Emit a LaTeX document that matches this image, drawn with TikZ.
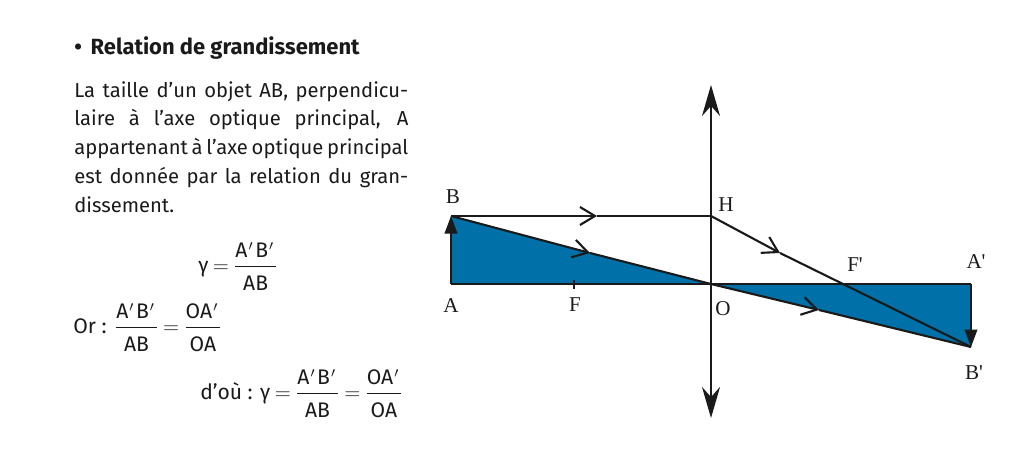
\documentclass[tikz,border=0pt]{standalone}
\usepackage{fontspec}
\setmainfont{Fira Sans}
\newfontfamily\serifaxe{Liberation Serif}
\usetikzlibrary{arrows.meta}
\definecolor{bleu}{HTML}{0070A9}
\definecolor{encre}{HTML}{1A1A1A}
\newcommand{\ratio}[2]{\ensuremath{\displaystyle\frac{\mbox{#1}\rule[-1pt]{0pt}{1pt}}{\mbox{\rule{0pt}{12pt}#2}}}}
\newcommand{\pr}{\kern0.6pt$'$\kern1pt}
\newcommand{\egal}{\kern2.5pt$=$\kern2.5pt}
\tikzset{
  texte/.style={text=encre,inner sep=0pt,font=\fontsize{11.5}{16.4}\selectfont},
  titrefont/.style={text=encre,inner sep=0pt,font=\bfseries\fontsize{12.5}{16.4}\selectfont},
  equation/.style={text=encre,inner sep=0pt,anchor=base west,font=\fontsize{12}{16.4}\selectfont},
  repere/.style={text=encre,inner sep=0pt,font=\serifaxe\fontsize{12}{14}\selectfont},
  rayon/.style={draw=encre,line width=1.2pt},
  fleche/.style={rayon,-{Straight Barb[length=0.3cm,width=0.36cm,line width=1.2pt]}},
  taille/.style={rayon,-{Triangle[length=0.35cm,width=0.25cm]}},
  lentille/.style={rayon,{Stealth[length=0.62cm,width=0.36cm]}-{Stealth[length=0.62cm,width=0.36cm]}},
}
\begin{document}
\begin{tikzpicture}
  \useasboundingbox (0,0) rectangle (20.42,9.06);

  \coordinate (A) at (9.02,3.38);
  \coordinate (B) at (9.02,4.74);
  \coordinate (O) at (14.22,3.38);
  \coordinate (H) at (14.22,4.74);
  \coordinate (Ap) at (19.42,3.38);
  \coordinate (Bp) at (19.42,2.12);
  \coordinate (lensHaut) at (14.22,7.36);
  \coordinate (lensBas) at (14.22,0.70);
  \coordinate (tickHaut) at (11.48,3.46);
  \coordinate (tickBas) at (11.48,3.28);
  \coordinate (midBH) at (11.94,4.74);
  \coordinate (midBO) at (11.80,4.00);
  \coordinate (midHBp) at (15.60,4.00);
  \coordinate (midOBp) at (16.38,2.86);

  \fill[bleu] (A) -- (B) -- (O) -- cycle;
  \fill[bleu] (O) -- (Ap) -- (Bp) -- cycle;

  \draw[rayon] (A) -- (Ap);
  \draw[rayon] (tickHaut) -- (tickBas);
  \draw[lentille] (lensBas) -- (lensHaut);
  \draw[taille] (A) -- (B);
  \draw[taille] (Ap) -- (Bp);

  \draw[fleche] (B) -- (midBH);
  \draw[rayon] (midBH) -- (H);
  \draw[fleche] (B) -- (midBO);
  \draw[rayon] (midBO) -- (O);
  \draw[fleche] (H) -- (midHBp);
  \draw[rayon] (midHBp) -- (Bp);
  \draw[fleche] (O) -- (midOBp);
  \draw[rayon] (midOBp) -- (Bp);

  \node[repere] (lblB) at (9.06,5.12) {B};
  \node[repere] (lblA) at (9.02,2.94) {A};
  \node[repere] (lblF) at (11.50,2.96) {F};
  \node[repere] (lblO) at (14.46,2.88) {O};
  \node[repere] (lblH) at (14.52,4.96) {H};
  \node[repere] (lblFp) at (17.10,3.76) {F'};
  \node[repere] (lblAp) at (19.52,3.82) {A'};
  \node[repere] (lblBp) at (19.48,1.60) {B'};

  \node[titrefont,anchor=base west] (titre) at (1.48,7.96) {•\kern5pt Relation de grandissement};
  \node[texte,anchor=north west,text width=6.68cm,align=justify] (para) at (1.48,7.44)
    {La taille d’un objet AB, perpendicu-\linebreak laire à l’axe optique principal, A\linebreak appartenant à l’axe optique principal\linebreak est donnée par la relation du gran-\linebreak dissement.\par};

  \node[equation] (eqa) at (3.96,3.62) {γ\egal\ratio{A\pr B\pr}{AB}};
  \node[equation] (eqb) at (1.46,2.40) {Or : \ratio{A\pr B\pr}{AB}\egal\ratio{OA\pr}{OA}};
  \node[equation] (eqc) at (4.00,1.08) {d’où : γ\egal\ratio{A\pr B\pr}{AB}\egal\ratio{OA\pr}{OA}};
\end{tikzpicture}
\end{document}
